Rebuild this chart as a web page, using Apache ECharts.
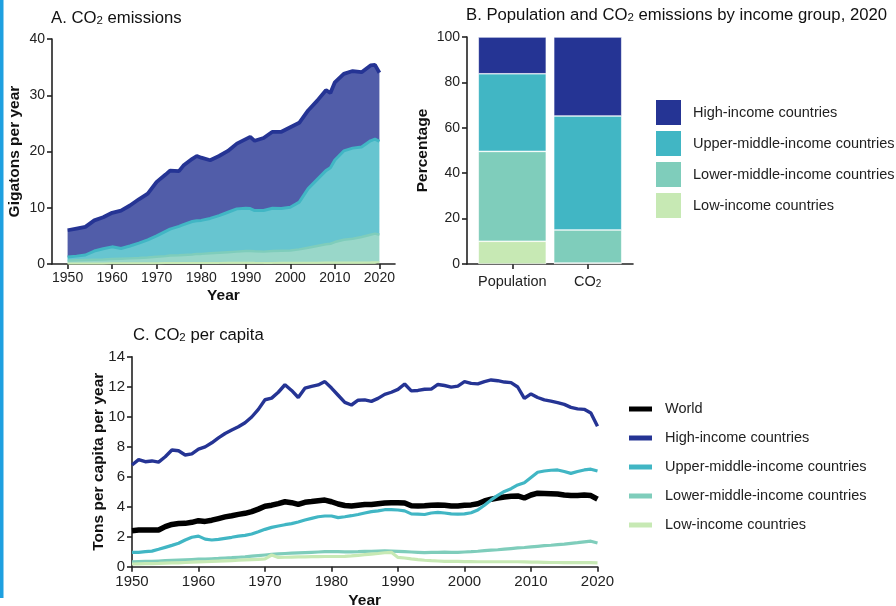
<!DOCTYPE html>
<html><head><meta charset="utf-8">
<script src="https://cdn.jsdelivr.net/npm/echarts@6/dist/echarts.min.js"></script>
<style>html,body{margin:0;padding:0;background:#fff}#c{width:896px;height:606px}</style>
</head><body><div id="c"></div>
<script>
// ---------- Panel A: CO2 emissions (Gt/yr) by income group ----------
const yearsA = [1950,1952,1954,1956,1958,1960,1962,1964,1966,1968,1970,1972,1973,1975,1976,1978,1979,1980,1982,1984,1986,1988,1990,1991,1992,1994,1996,1998,2000,2002,2004,2006,2008,2009,2010,2012,2014,2016,2018,2019,2020];
const aHigh  = [4.75,4.9,5.0,5.45,5.6,6.05,6.75,7.2,7.8,8.2,9.6,10.1,10.4,9.8,10.5,11.15,11.5,11.15,10.35,10.6,10.9,11.6,12.3,12.75,12.4,12.9,13.6,13.65,14.2,14.1,13.9,14.0,14.3,13.3,13.8,13.7,13.7,13.3,13.4,13.2,12.2];
const aUpper = [0.65,0.75,0.9,1.55,1.9,2.15,1.8,2.2,2.65,3.15,3.7,4.4,4.7,5.15,5.4,5.85,5.9,5.95,6.2,6.6,7.1,7.6,7.6,7.55,7.25,7.3,7.6,7.5,7.7,8.4,10.5,11.8,13.1,13.5,14.6,15.8,16.1,16.0,16.7,16.8,16.6];
const aLower = [0.5,0.55,0.6,0.64,0.69,0.78,0.83,0.87,0.92,1.01,1.15,1.24,1.34,1.38,1.43,1.52,1.61,1.61,1.7,1.8,1.89,1.98,2.07,2.08,2.04,2.0,2.1,2.14,2.19,2.38,2.67,2.96,3.25,3.35,3.64,4.03,4.22,4.52,4.91,5.1,4.9];
const aLow   = [0.1,0.1,0.1,0.11,0.11,0.12,0.12,0.13,0.13,0.14,0.15,0.16,0.16,0.17,0.17,0.18,0.19,0.19,0.2,0.2,0.21,0.22,0.23,0.22,0.21,0.2,0.2,0.21,0.21,0.22,0.23,0.24,0.25,0.25,0.26,0.27,0.28,0.28,0.29,0.3,0.3];
const yearTicks = [1950,1960,1970,1980,1990,2000,2010,2020];

// ---------- Panel B: shares (%) in 2020 ----------
const barCategories = ['Population', 'CO2'];
const bLow   = [10, 0.4];
const bLower = [39.6, 14.6];
const bUpper = [34.2, 50.2];
const bHigh  = [16.2, 34.8];

// ---------- Panel C: CO2 per capita (t/yr) ----------
const yearsC = [1950,1951,1952,1953,1954,1955,1956,1957,1958,1959,1960,1961,1962,1963,1964,1965,1966,1967,1968,1969,1970,1971,1972,1973,1974,1975,1976,1977,1978,1979,1980,1981,1982,1983,1984,1985,1986,1987,1988,1989,1990,1991,1992,1993,1994,1995,1996,1997,1998,1999,2000,2001,2002,2003,2004,2005,2006,2007,2008,2009,2010,2011,2012,2013,2014,2015,2016,2017,2018,2019,2020];
const cWorld = [2.4,2.44,2.45,2.45,2.45,2.67,2.82,2.88,2.89,2.96,3.07,3.02,3.1,3.21,3.32,3.4,3.49,3.56,3.67,3.84,4.03,4.1,4.21,4.33,4.27,4.16,4.29,4.34,4.4,4.44,4.33,4.18,4.08,4.04,4.1,4.15,4.15,4.2,4.25,4.27,4.27,4.25,4.06,4.05,4.06,4.1,4.12,4.1,4.05,4.05,4.1,4.12,4.2,4.38,4.5,4.58,4.65,4.7,4.72,4.58,4.78,4.9,4.88,4.86,4.84,4.78,4.74,4.75,4.78,4.74,4.5];
const cHigh = [6.78,7.14,7.0,7.05,6.97,7.33,7.78,7.73,7.45,7.52,7.84,7.99,8.26,8.59,8.88,9.11,9.33,9.6,9.98,10.49,11.13,11.24,11.63,12.13,11.75,11.28,11.9,12.02,12.12,12.34,11.91,11.43,10.95,10.78,11.1,11.12,11.02,11.22,11.49,11.63,11.82,12.18,11.72,11.75,11.83,11.84,12.15,12.08,11.97,12.04,12.34,12.22,12.19,12.34,12.45,12.4,12.31,12.27,11.98,11.22,11.52,11.28,11.12,11.04,10.94,10.82,10.62,10.52,10.49,10.24,9.36];
const cUpper = [0.96,0.96,1.0,1.04,1.16,1.29,1.42,1.56,1.78,1.96,2.04,1.84,1.78,1.82,1.89,1.96,2.04,2.09,2.18,2.33,2.49,2.62,2.71,2.8,2.87,2.98,3.11,3.22,3.33,3.38,3.38,3.27,3.33,3.4,3.48,3.58,3.67,3.72,3.8,3.8,3.78,3.72,3.52,3.5,3.48,3.58,3.62,3.58,3.52,3.5,3.52,3.6,3.78,4.1,4.45,4.75,5.02,5.2,5.45,5.6,5.95,6.3,6.38,6.43,6.45,6.35,6.22,6.35,6.45,6.5,6.38];
const cLower = [0.33,0.34,0.35,0.36,0.38,0.4,0.42,0.44,0.46,0.48,0.5,0.51,0.53,0.55,0.58,0.6,0.63,0.66,0.7,0.74,0.78,0.82,0.85,0.88,0.9,0.92,0.94,0.96,0.98,1.0,1.0,1.0,0.99,0.99,1.0,1.02,1.03,1.04,1.05,1.04,1.02,1.0,0.98,0.96,0.94,0.95,0.96,0.97,0.96,0.96,0.98,1.0,1.03,1.07,1.1,1.13,1.17,1.21,1.25,1.28,1.32,1.36,1.4,1.43,1.47,1.5,1.55,1.6,1.66,1.7,1.58];
const cLow = [0.18,0.19,0.2,0.21,0.22,0.24,0.25,0.26,0.28,0.3,0.32,0.33,0.35,0.37,0.39,0.41,0.43,0.45,0.47,0.49,0.52,0.78,0.62,0.63,0.64,0.65,0.66,0.67,0.67,0.68,0.68,0.68,0.69,0.72,0.76,0.8,0.84,0.88,0.93,0.96,0.62,0.58,0.52,0.47,0.43,0.4,0.38,0.36,0.35,0.35,0.34,0.34,0.33,0.33,0.33,0.33,0.33,0.33,0.33,0.32,0.31,0.3,0.29,0.28,0.28,0.27,0.27,0.27,0.27,0.27,0.26];

const groupNames = ['High-income countries','Upper-middle-income countries','Lower-middle-income countries','Low-income countries'];
const COL = {world:'#000000', high:'#253494', upper:'#41b6c4', lower:'#7fcdbb', low:'#c7e9b4'};
const FONT = 'Liberation Sans, Arial, sans-serif';
const AX = '#222';

const chart = echarts.init(document.getElementById('c'), null, {renderer:'canvas'});
// value first, x second (encode swaps) so the stack is applied to the value dimension
const zipVX = (xs, ys) => xs.map((x,i)=>[ys[i], x]);
const zip = (xs, ys) => xs.map((x,i)=>[x, ys[i]]);
const plain = (v) => String(v);

const axisBase = {
  axisLine:{show:true, lineStyle:{color:AX, width:1.6}},
  axisTick:{show:true, length:5, lineStyle:{color:AX, width:1.6}},
  splitLine:{show:false},
  nameMoveOverlap:false,
  nameTextStyle:{fontFamily:FONT, fontWeight:'bold', fontSize:15.5, color:'#111'}
};
const lbl = (extra) => Object.assign({color:AX, fontSize:14, fontFamily:FONT, margin:7, formatter:plain}, extra||{});

const titleRich = {
  m:{fontFamily:FONT, fontSize:16.7, fontWeight:'normal', color:'#111', lineHeight:20, verticalAlign:'bottom'},
  s:{fontFamily:FONT, fontSize:11.5, fontWeight:'normal', color:'#111', lineHeight:10, verticalAlign:'bottom'}
};

const option = {
  animation:false,
  backgroundColor:'#fff',
  title:[
    {text:'{m|A. CO}{s|2}{m| emissions}', left:51, top:7, padding:0, textStyle:{fontWeight:'normal', rich:titleRich}},
    {text:'{m|B. Population and CO}{s|2}{m| emissions by income group, 2020}', left:466, top:4, padding:0, textStyle:{fontWeight:'normal', rich:titleRich}},
    {text:'{m|C. CO}{s|2}{m| per capita}', left:133, top:324, padding:0, textStyle:{fontWeight:'normal', rich:titleRich}}
  ],
  graphic:[{type:'rect', shape:{x:0,y:0,width:3.5,height:598}, style:{fill:'#1ea0e0'}}],
  grid:[
    {left:52, top:39, width:343, height:225, outerBoundsMode:'none', containLabel:false},
    {left:467, top:37, width:166, height:227, outerBoundsMode:'none', containLabel:false},
    {left:132, top:356.7, width:465.5, height:210, outerBoundsMode:'none', containLabel:false}
  ],
  xAxis:[
    Object.assign({}, axisBase, {gridIndex:0, type:'value', min:1946.5, max:2023.5,
      name:'Year', nameLocation:'middle', nameGap:24,
      axisLabel:lbl({customValues:yearTicks}), axisTick:Object.assign({}, axisBase.axisTick, {customValues:yearTicks})}),
    Object.assign({}, axisBase, {gridIndex:1, type:'value', min:0.4, max:2.6,
      axisLabel:lbl({customValues:[1,2], formatter:(v)=> v===1 ? '{a|'+barCategories[0]+'}' : '{a|CO}{s|2}',
        rich:{a:{fontSize:14.5, fontFamily:FONT, color:AX, lineHeight:18, verticalAlign:'bottom'}, s:{fontSize:10, fontFamily:FONT, color:AX, lineHeight:9, verticalAlign:'bottom'}}}),
      axisTick:Object.assign({}, axisBase.axisTick, {customValues:[1,2]})}),
    Object.assign({}, axisBase, {gridIndex:2, type:'value', min:1950, max:2020, interval:10,
      name:'Year', nameLocation:'middle', nameGap:26,
      axisLabel:lbl({fontSize:15, margin:8})})
  ],
  yAxis:[
    Object.assign({}, axisBase, {gridIndex:0, type:'value', min:0, max:40, interval:10,
      name:'Gigatons per year', nameLocation:'middle', nameGap:29, axisLabel:lbl()}),
    Object.assign({}, axisBase, {gridIndex:1, type:'value', min:0, max:100, interval:20,
      name:'Percentage', nameLocation:'middle', nameGap:36, axisLabel:lbl()}),
    Object.assign({}, axisBase, {gridIndex:2, type:'value', min:0, max:14, interval:2,
      name:'Tons per capita per year', nameLocation:'middle', nameGap:25, axisLabel:lbl({fontSize:15})})
  ],
  legend:[
    {orient:'vertical', left:654, top:98, itemWidth:27, itemHeight:27, itemGap:2, icon:'rect', padding:0,
      data:groupNames, selectedMode:false,
      textStyle:{fontFamily:FONT, fontSize:14.5, color:'#222', padding:[0,0,0,6]}},
    {orient:'vertical', left:629, top:399, itemWidth:23, itemHeight:5, itemGap:9, icon:'rect', padding:0,
      data:['C|World','C|'+groupNames[0],'C|'+groupNames[1],'C|'+groupNames[2],'C|'+groupNames[3]],
      selectedMode:false, formatter:(n)=>n.replace(/^C\|/, ''),
      textStyle:{fontFamily:FONT, fontSize:14.5, color:'#222', lineHeight:20, padding:[0,0,0,8]}}
  ],
  series:[]
};

// Panel A stacked areas
const aSeries = [['A|low', aLow, COL.low, 2], ['A|lower', aLower, COL.lower, 2.5], ['A|upper', aUpper, COL.upper, 3], ['A|high', aHigh, COL.high, 3.8]];
aSeries.forEach(([name, vals, col, w]) => {
  option.series.push({type:'line', name, xAxisIndex:0, yAxisIndex:0, stack:'A', symbol:'none', smooth:false,
    encode:{x:1, y:0},
    data:zipVX(yearsA, vals), lineStyle:{color:col, width:w}, itemStyle:{color:col},
    areaStyle:{color:col, opacity:0.8}});
});

// Panel B stacked bars
const bSeries = [[groupNames[3], bLow, COL.low], [groupNames[2], bLower, COL.lower], [groupNames[1], bUpper, COL.upper], [groupNames[0], bHigh, COL.high]];
bSeries.forEach(([name, vals, col]) => {
  option.series.push({type:'bar', name, xAxisIndex:1, yAxisIndex:1, stack:'B', barWidth:68,
    encode:{x:1, y:0},
    data:vals.map((v,i)=>[v, i+1]), itemStyle:{color:col, borderColor:'#ffffff', borderWidth:0.6}});
});

// Panel C lines
const cSeries = [['C|World', cWorld, COL.world, 5.5], ['C|'+groupNames[0], cHigh, COL.high, 3.4], ['C|'+groupNames[1], cUpper, COL.upper, 3.2], ['C|'+groupNames[2], cLower, COL.lower, 3.2], ['C|'+groupNames[3], cLow, COL.low, 3.2]];
cSeries.forEach(([name, vals, col, w]) => {
  option.series.push({type:'line', name, xAxisIndex:2, yAxisIndex:2, symbol:'none', smooth:false,
    data:zip(yearsC, vals), lineStyle:{color:col, width:w}, itemStyle:{color:col}});
});

chart.setOption(option);
</script>
</body></html>
